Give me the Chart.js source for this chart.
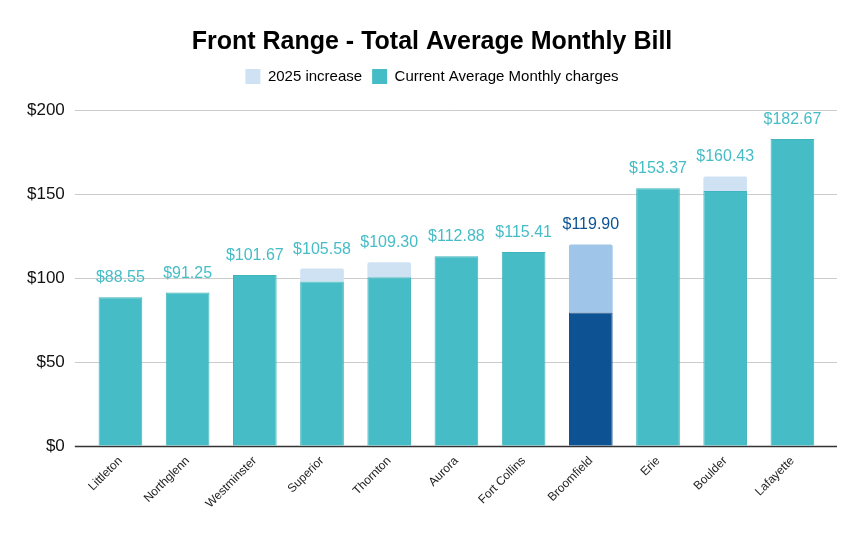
<!DOCTYPE html>
<html>
<head>
<meta charset="utf-8">
<script src="https://cdn.jsdelivr.net/npm/chart.js@4"></script>
<style>
html,body{margin:0;padding:0;background:#fff;}
#wrap{width:864px;height:533px;}
</style>
</head>
<body>
<div id="wrap"><canvas id="c" width="864" height="533"></canvas></div>
<script>
const categories = ["Littleton","Northglenn","Westminster","Superior","Thornton","Aurora","Fort Collins","Broomfield","Erie","Boulder","Lafayette"];
const currentCharges = [88.55, 91.25, 101.67, 97.8, 100.4, 112.88, 115.41, 79.4, 153.37, 151.8, 182.67];
const increase2025 = [0, 0, 0, 7.78, 8.9, 0, 0, 40.5, 0, 8.63, 0];
const totals = [88.55, 91.25, 101.67, 105.58, 109.30, 112.88, 115.41, 119.90, 153.37, 160.43, 182.67];
const yTicks = [0, 50, 100, 150, 200];

const highlight = "Broomfield";
const teal = "#46bdc6", tealEdge = "#3fb4bd", lightBlue = "#cfe2f3", darkBlue = "#0b5394", midBlue = "#9fc5e8";
const curColors = categories.map(c => c === highlight ? "#0d5394" : teal);
const curEdges = categories.map(c => c === highlight ? "#0a4a85" : tealEdge);
const incColors = categories.map(c => c === highlight ? midBlue : lightBlue);
const labelColors = categories.map(c => c === highlight ? darkBlue : teal);
const FONT = '"Liberation Sans", Arial, sans-serif';

const gridLines = {
  id: 'gridLines',
  beforeDatasetsDraw(chart) {
    const ctx = chart.ctx, a = chart.chartArea, y = chart.scales.y;
    ctx.save();
    yTicks.forEach(v => {
      const py = Math.round(y.getPixelForValue(v)) + 0.5;
      ctx.strokeStyle = v === 0 ? '#333333' : '#cccccc';
      ctx.lineWidth = v === 0 ? 1.5 : 1;
      ctx.beginPath();
      ctx.moveTo(a.left - 12, py);
      ctx.lineTo(a.right + 11, py);
      ctx.stroke();
    });
    ctx.restore();
  }
};

const totalLabels = {
  id: 'totalLabels',
  afterDatasetsDraw(chart) {
    const ctx = chart.ctx, yScale = chart.scales.y, xScale = chart.scales.x;
    ctx.save();
    ctx.font = '16px ' + FONT;
    ctx.textAlign = 'center';
    ctx.textBaseline = 'alphabetic';
    totals.forEach((t, i) => {
      ctx.fillStyle = labelColors[i];
      ctx.fillText('$' + t.toFixed(2), xScale.getPixelForValue(i), yScale.getPixelForValue(t) - 15);
    });
    ctx.restore();
  }
};

const legendSpace = {
  id: 'legendSpace',
  beforeInit(chart) {
    const orig = chart.legend.fit;
    chart.legend.fit = function () { orig.bind(chart.legend)(); this.height += 16; };
  }
};

new Chart(document.getElementById('c'), {
  type: 'bar',
  data: {
    labels: categories,
    datasets: [
      { label: 'Current Average Monthly charges', data: currentCharges, backgroundColor: curColors, borderColor: curEdges, borderWidth: 1, categoryPercentage: 0.65, barPercentage: 1 },
      { label: '2025 increase', data: increase2025, backgroundColor: incColors, borderColor: incColors, borderWidth: 0, borderRadius: {topLeft: 2, topRight: 2}, borderSkipped: 'bottom', categoryPercentage: 0.65, barPercentage: 1 }
    ]
  },
  options: {
    responsive: false,
    animation: false,
    devicePixelRatio: 1,
    layout: { padding: { left: 5, right: 5, top: 10, bottom: 14 } },
    plugins: {
      title: { display: true, text: 'Front Range - Total Average Monthly Bill', color: '#000', font: { family: FONT, size: 25, weight: 'bold' }, padding: { top: 17, bottom: 2 } },
      legend: {
        display: true,
        labels: {
          color: '#222',
          font: { family: FONT, size: 15 },
          boxWidth: 15, boxHeight: 15, padding: 10,
          sort: (a, b) => b.datasetIndex - a.datasetIndex,
          generateLabels: (chart) => chart.data.datasets.map((ds, i) => ({
            text: ds.label, fillStyle: i === 0 ? teal : lightBlue, strokeStyle: i === 0 ? teal : lightBlue, lineWidth: 0, datasetIndex: i, hidden: false
          }))
        }
      },
      tooltip: { enabled: false }
    },
    scales: {
      x: {
        stacked: true,
        afterFit: (scale) => { scale.paddingLeft = 0; scale.paddingRight = 38; },
        grid: { display: false, drawTicks: false },
        border: { display: false },
        ticks: { color: '#222', font: { family: FONT, size: 12 }, minRotation: 45, maxRotation: 45, padding: 8 }
      },
      y: {
        stacked: true,
        min: 0, max: 200,
        afterBuildTicks: (axis) => { axis.ticks = yTicks.map(v => ({ value: v })); },
        grid: { display: false, drawTicks: false },
        border: { display: false },
        ticks: { color: '#111', font: { family: FONT, size: 17 }, padding: 22, callback: (v) => '$' + v }
      }
    }
  },
  plugins: [gridLines, totalLabels, legendSpace]
});
</script>
</body>
</html>
